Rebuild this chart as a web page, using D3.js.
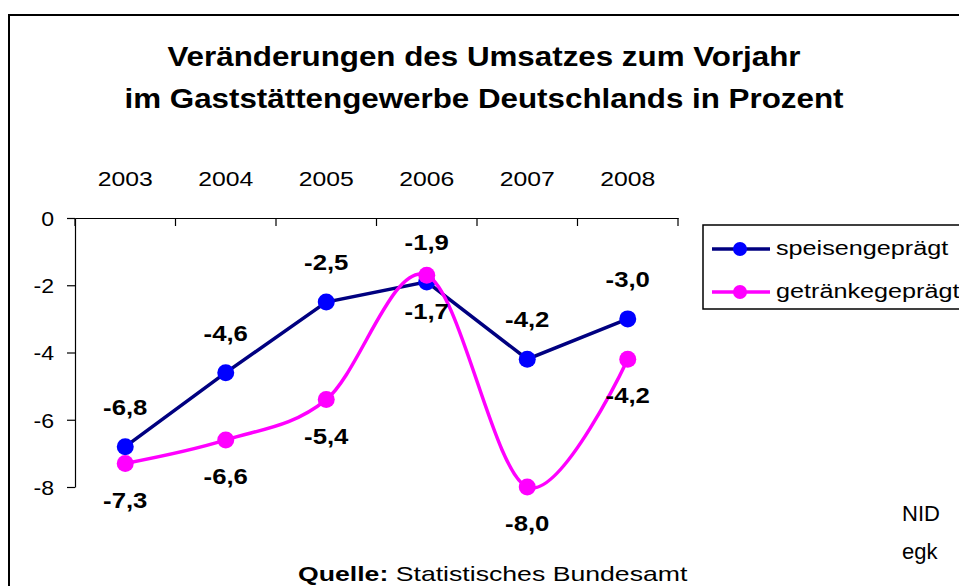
<!DOCTYPE html>
<html>
<head>
<meta charset="utf-8">
<script src="https://cdn.jsdelivr.net/npm/d3@7"></script>
<style>
  body { margin: 0; background: #fff; }
  svg { display: block; font-family: Arial, "Liberation Sans", sans-serif; }
</style>
</head>
<body>
<svg width="959" height="586"></svg>
<script>
  // data
  var years = ["2003", "2004", "2005", "2006", "2007", "2008"];
  var speisen = [-6.8, -4.6, -2.5, -1.9, -4.2, -3.0];
  var getraenke = [-7.3, -6.6, -5.4, -1.7, -8.0, -4.2];
  var seriesNames = ["speisengeprägt", "getränkegeprägt"];
  var yTicks = [0, -2, -4, -6, -8];
  var titleLines = ["Veränderungen des Umsatzes zum Vorjahr", "im Gaststättengewerbe Deutschlands in Prozent"];

  var svg = d3.select("svg");
  var fmt = function(v) { return v.toFixed(1).replace(".", ","); };

  // text helper: stretched horizontally like the original picture
  function txt(parent, x, y, s, size, sx, opts) {
    opts = opts || {};
    var g = parent.append("g").attr("transform", "translate(" + x + "," + y + ") scale(" + sx + ",1)");
    var t = g.append("text")
      .attr("text-anchor", opts.anchor || "middle")
      .attr("dominant-baseline", opts.baseline || "middle")
      .attr("font-size", size)
      .attr("font-weight", opts.bold ? "bold" : "normal")
      .attr("fill", "#000")
      .text(s);
    return t;
  }

  // frame
  svg.append("path")
    .attr("d", "M9,600 V15 H970")
    .attr("fill", "none").attr("stroke", "#000").attr("stroke-width", 2);

  // title
  txt(svg, 484, 58, titleLines[0], 28.5, 1.1, {bold: true});
  txt(svg, 484, 100, titleLines[1], 28.5, 1.1, {bold: true});

  var x = d3.scaleBand().domain(years).range([75, 678]);
  var y = d3.scaleLinear().domain([-8, 0]).range([487, 218]);

  // y axis
  var yAxis = svg.append("g")
    .attr("transform", "translate(75,0)")
    .call(d3.axisLeft(y).tickValues(yTicks).tickSize(8).tickSizeOuter(0).tickFormat(d3.format("d")));
  yAxis.select(".domain").attr("stroke", "#000").attr("stroke-width", 1.2);
  yAxis.selectAll(".tick line").attr("stroke", "#000").attr("stroke-width", 1.2);
  yAxis.selectAll(".tick text")
    .attr("font-size", 21).attr("font-family", "Arial, 'Liberation Sans', sans-serif")
    .attr("fill", "#000")
    .attr("x", -21 / 1.1).attr("dy", "0.35em")
    .attr("transform", "scale(1.1,1)")
    .text(function(d) { return d === 0 ? "0" : d3.format("d")(d).replace("−", "-"); });

  // top category axis (labels), tick marks between categories
  var xAxis = svg.append("g")
    .attr("transform", "translate(0," + y(0) + ")")
    .call(d3.axisTop(x).tickSize(0).tickPadding(32));
  xAxis.select(".domain").attr("stroke", "#000").attr("stroke-width", 1.2);
  xAxis.selectAll(".tick text")
    .attr("font-size", 21).attr("font-family", "Arial, 'Liberation Sans', sans-serif")
    .attr("fill", "#000").attr("transform", "scale(1.18,1)");

  var bounds = years.map(function(d) { return x(d); }).concat([x.range()[1]]);
  svg.append("g").selectAll("line")
    .data(bounds)
    .enter().append("line")
      .attr("x1", function(d) { return d; }).attr("x2", function(d) { return d; })
      .attr("y1", y(0)).attr("y2", y(0) + 8)
      .attr("stroke", "#000").attr("stroke-width", 1.2);

  var cx = function(i) { return x(years[i]) + x.bandwidth() / 2; };

  // series
  var series = [
    {name: seriesNames[0], values: speisen, line: "#000080", dot: "#0000FF", curve: d3.curveLinear, dy: -38},
    {name: seriesNames[1], values: getraenke, line: "#FF00FF", dot: "#FF00FF", curve: d3.curveCardinal.tension(0), dy: 38}
  ];

  series.forEach(function(s) {
    var line = d3.line()
      .x(function(d, i) { return cx(i); })
      .y(function(d) { return y(d); })
      .curve(s.curve);
    svg.append("path")
      .datum(s.values)
      .attr("d", line)
      .attr("fill", "none")
      .attr("stroke", s.line)
      .attr("stroke-width", 3.5);
    svg.append("g").selectAll("circle")
      .data(s.values)
      .enter().append("circle")
        .attr("cx", function(d, i) { return cx(i); })
        .attr("cy", function(d) { return y(d); })
        .attr("r", 8.5)
        .attr("fill", s.dot);
  });

  series.forEach(function(s) {
    s.values.forEach(function(v, i) {
      txt(svg, cx(i), y(v) + s.dy, fmt(v), 23, 1.12, {bold: true});
    });
  });

  // legend
  var lg = svg.append("g");
  lg.append("rect")
    .attr("x", 703).attr("y", 225).attr("width", 300).attr("height", 84)
    .attr("fill", "#fff").attr("stroke", "#000").attr("stroke-width", 1.5);
  series.forEach(function(s, i) {
    var ly = 249 + i * 43;
    lg.append("line").attr("x1", 712).attr("x2", 770).attr("y1", ly).attr("y2", ly)
      .attr("stroke", s.line).attr("stroke-width", 3.5);
    lg.append("circle").attr("cx", 740).attr("cy", ly).attr("r", 7).attr("fill", s.dot);
    txt(lg, 776, ly, s.name, 21, 1.2, {anchor: "start"});
  });

  // source and notes
  var src = svg.append("g").attr("transform", "translate(298,576) scale(1.3,1)")
    .append("text").attr("font-size", 20.5).attr("dominant-baseline", "middle").attr("fill", "#000");
  src.append("tspan").attr("font-weight", "bold").text("Quelle:");
  src.append("tspan").text(" Statistisches Bundesamt");

  txt(svg, 902, 515, "NID", 22, 1, {anchor: "start"});
  txt(svg, 902, 553, "egk", 22, 1, {anchor: "start"});
</script>
</body>
</html>
